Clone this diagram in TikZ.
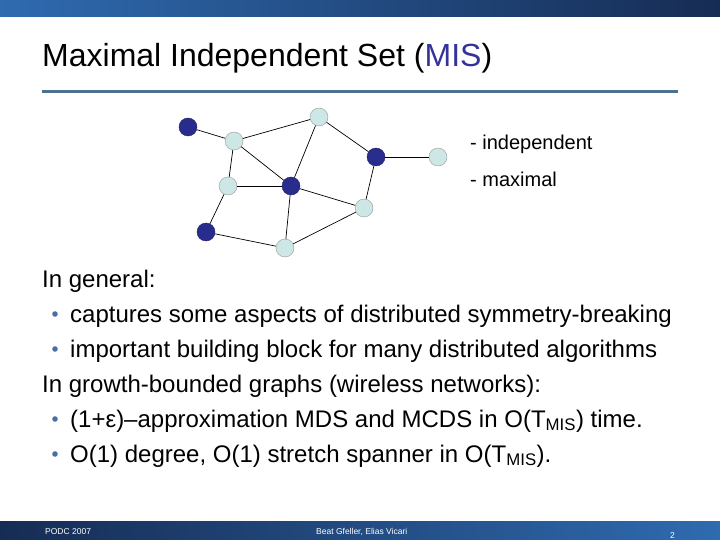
\documentclass[tikz,border=0pt]{standalone}
\usepackage{fontspec}
\setmainfont{Liberation Sans}
\usepackage{xcolor}
\definecolor{slideblue}{RGB}{47,107,176}
\definecolor{slidenavy}{RGB}{22,44,84}
\definecolor{rulesteel}{RGB}{78,113,144}
\definecolor{misblue}{RGB}{51,51,153}
\definecolor{misdark}{RGB}{40,44,140}
\definecolor{mislight}{RGB}{205,230,230}
\definecolor{bulletblue}{RGB}{74,111,165}
\usetikzlibrary{positioning}

\tikzset{
  dark/.style={circle, fill=misdark, draw=misdark!70!black, thin, minimum size=18pt, inner sep=0pt},
  light/.style={circle, fill=mislight, draw=gray!80, thin, minimum size=18pt, inner sep=0pt},
  edge/.style={draw=black, line width=0.7pt},
  body/.style={anchor=base west, inner sep=0pt, font=\fontsize{24}{28}\selectfont},
  foot/.style={anchor=base west, inner sep=0pt, text=white, font=\fontsize{8.5}{10}\selectfont},
}

\begin{document}
\begin{tikzpicture}[x=1pt, y=-1pt]
  \useasboundingbox (0,0) rectangle (720,540);
  % Header and footer bars
  \shade[left color=slideblue, right color=slidenavy] (0,0) rectangle (720,17);
  \shade[left color=slidenavy, right color=slideblue] (0,521) rectangle (720,540);
  % Title
  \node[anchor=base west, inner sep=0pt, font=\fontsize{32}{38}\selectfont] (title) at (42,67)
    {Maximal Independent Set (\textcolor{misblue}{MIS})};
  \draw[rulesteel, line width=3pt] (42,92) -- (678,92);
  % Graph nodes
  \node[dark]  (d1) at (188,127) {};
  \node[light] (l1) at (234,141) {};
  \node[light] (l2) at (319,117) {};
  \node[dark]  (d2) at (376,157) {};
  \node[light] (l3) at (438,157) {};
  \node[light] (l4) at (228,186) {};
  \node[dark]  (d3) at (291,186) {};
  \node[light] (l5) at (364,208) {};
  \node[dark]  (d4) at (206,232) {};
  \node[light] (l6) at (285,248) {};
  % Graph edges
  \foreach \a/\b in {d1/l1, l1/l2, l1/l4, l1/d3, l2/d3, l2/d2, d2/l3, d2/l5,
                     l4/d3, l4/d4, d3/l5, d3/l6, d4/l6, l6/l5}
    \draw[edge] (\a) -- (\b);
  % Properties
  \node[anchor=base west, inner sep=0pt, font=\fontsize{20}{24}\selectfont] (indep) at (470,150) {- independent};
  \node[anchor=base west, inner sep=0pt, font=\fontsize{20}{24}\selectfont] (maxim) at (470,187) {- maximal};
  % Body text
  \node[body] (gen1) at (42,287) {In general:};
  \node[body] (b1) at (70,322) {captures some aspects of distributed symmetry-breaking};
  \node[body] (b2) at (70,357) {important building block for many distributed algorithms};
  \node[body] (gen2) at (42,392) {In growth-bounded graphs (wireless networks):};
  \node[body] (b3) at (70,427) {(1+ε)–approximation MDS and MCDS in O(T\textsubscript{MIS}) time.};
  \node[body] (b4) at (70,462) {O(1) degree, O(1) stretch spanner in O(T\textsubscript{MIS}).};
  \foreach \y in {322,357,427,462}
    \fill[bulletblue] (55,\y-8) circle (2.8);
  % Footer text
  \node[foot] (conf) at (45,534) {PODC 2007};
  \node[foot] (auth) at (316,534) {Beat Gfeller, Elias Vicari};
  \node[foot] (page) at (670,538) {2};
\end{tikzpicture}
\end{document}
